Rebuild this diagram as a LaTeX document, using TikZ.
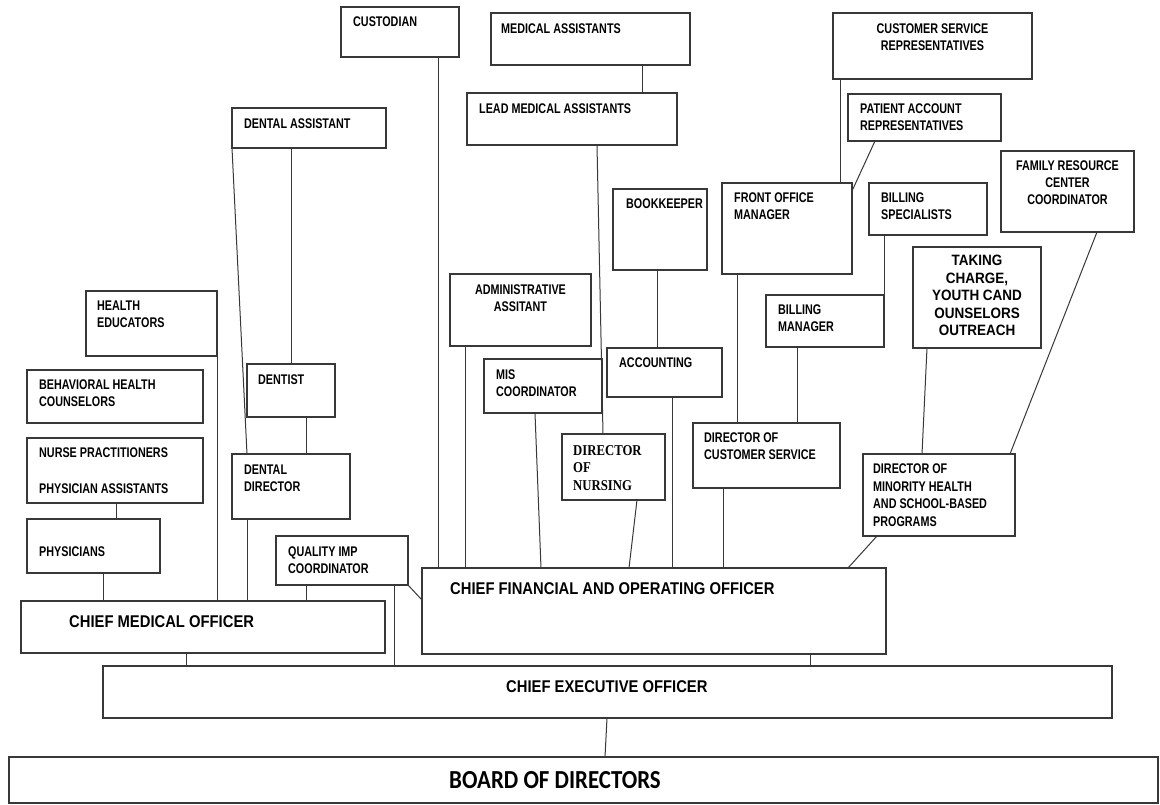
\documentclass[tikz,border=0pt]{standalone}
\usepackage{fontspec}
\newfontfamily\labfont[FakeStretch=0.77]{Liberation Sans}
\newfontfamily\bigfont[FakeStretch=0.87]{Liberation Sans}
\newfontfamily\brdfont[FakeStretch=0.88]{Carlito}
\newfontfamily\serfont[FakeStretch=0.85]{Liberation Serif}
\newfontfamily\tkfont[FakeStretch=0.9]{Liberation Sans}
\newcommand\bx[5]{\node[box,minimum width={#4-#2},minimum height={#5-#3}] (#1) at ({(#2+#4)/2},{(#3+#5)/2}) {};}
\begin{document}
\begin{tikzpicture}[x=1pt,y=-1pt,
  box/.style={draw=black!78,line width=1.1pt,rectangle,inner sep=0pt,outer sep=0pt},
  conn/.style={draw=black!78,line width=1pt},
  lab/.style={font={\labfont\bfseries\fontsize{14}{17}\selectfont},inner sep=0pt,anchor=north west,align=left},
  labc/.style={lab,anchor=north,align=center},
  big/.style={font={\bigfont\bfseries\fontsize{17}{20}\selectfont},inner sep=0pt,anchor=north west},
  brd/.style={font={\brdfont\bfseries\fontsize{26}{30}\selectfont},inner sep=0pt,anchor=north west},
  ser/.style={font={\serfont\bfseries\fontsize{15}{17.6}\selectfont},inner sep=0pt,anchor=north west,align=left},
  tk/.style={font={\tkfont\bfseries\fontsize{15}{17.5}\selectfont},inner sep=0pt,anchor=north,align=center}]
\useasboundingbox (0,0) rectangle (1160,805);
\fill[white] (0,0) rectangle (1160,805);
% boxes
\bx{custodian}{341}{7}{459}{57}
\bx{dentalasst}{232}{108}{386}{148}
\bx{medasst}{491}{13}{690}{65}
\bx{leadma}{467}{93}{677}{145}
\bx{csr}{833}{13}{1032}{79}
\bx{par}{848}{94}{1001}{141}
\bx{fom}{722}{183}{852}{274}
\bx{billspec}{869}{183}{987}{235}
\bx{family}{1001}{151}{1134}{232}
\bx{bookkeeper}{613}{189}{707}{270}
\bx{admin}{450}{274}{591}{346}
\bx{taking}{913}{247}{1041}{348}
\bx{billmgr}{766}{295}{884}{347}
\bx{accounting}{607}{348}{722}{397}
\bx{mis}{484}{359}{602}{413}
\bx{nursing}{562}{434}{665}{500}
\bx{dcs}{693}{423}{840}{488}
\bx{dmh}{863}{454}{1015}{536}
\bx{healthed}{86}{291}{217}{356}
\bx{behav}{27}{370}{203}{423}
\bx{np}{27}{438}{203}{503}
\bx{physicians}{27}{519}{160}{573}
\bx{dentist}{247}{364}{335}{417}
\bx{dentaldir}{232}{454}{350}{519}
\bx{quality}{276}{536}{408}{585}
\bx{cmo}{21}{601}{385}{653}
\bx{cfo}{422}{568}{886}{654}
\bx{ceo}{103}{666}{1112}{718}
\bx{board}{9}{757}{1158}{803}
% texts
\node[lab] (custodian-t) at (353,17) {CUSTODIAN};
\node[lab] (dentalasst-t) at (244,119) {DENTAL ASSISTANT};
\node[lab] (medasst-t) at (501,24) {MEDICAL ASSISTANTS};
\node[lab] (leadma-t) at (479,104) {LEAD MEDICAL ASSISTANTS};
\node[labc] (csr-t) at (932.5,24) {CUSTOMER SERVICE\\REPRESENTATIVES};
\node[lab] (par-t) at (860,104) {PATIENT ACCOUNT\\REPRESENTATIVES};
\node[lab] (fom-t) at (734,193) {FRONT OFFICE\\MANAGER};
\node[lab] (billspec-t) at (881,193) {BILLING\\SPECIALISTS};
\node[labc] (family-t) at (1067.5,161) {FAMILY RESOURCE\\CENTER\\COORDINATOR};
\node[lab] (bookkeeper-t) at (626,199) {BOOKKEEPER};
\node[labc] (admin-t) at (520.5,285) {ADMINISTRATIVE\\ASSITANT};
\node[lab] (mis-t) at (496,370) {MIS\\COORDINATOR};
\node[lab] (accounting-t) at (619,358) {ACCOUNTING};
\node[lab] (billmgr-t) at (778,305) {BILLING\\MANAGER};
\node[ser] (nursing-t) at (573,445) {DIRECTOR\\OF\\NURSING};
\node[lab] (dcs-t) at (704,433) {DIRECTOR OF\\CUSTOMER SERVICE};
\node[tk] (taking-t) at (977,255) {TAKING\\CHARGE,\\YOUTH CAND\\OUNSELORS\\OUTREACH};
\node[lab,font={\labfont\bfseries\fontsize{14}{17.5}\selectfont}] (dmh-t) at (873,464) {DIRECTOR OF\\MINORITY HEALTH\\AND SCHOOL-BASED\\PROGRAMS};
\node[lab] (healthed-t) at (97,301) {HEALTH\\EDUCATORS};
\node[lab] (behav-t) at (39,380) {BEHAVIORAL HEALTH\\COUNSELORS};
\node[lab] (np-t) at (39,448) {NURSE PRACTITIONERS\\[19pt]PHYSICIAN ASSISTANTS};
\node[lab] (physicians-t) at (39,547) {PHYSICIANS};
\node[lab] (dentist-t) at (258,375) {DENTIST};
\node[lab] (dentaldir-t) at (244,465) {DENTAL\\DIRECTOR};
\node[lab] (quality-t) at (288,547) {QUALITY IMP\\COORDINATOR};
\node[big] (cmo-t) at (69,615) {CHIEF MEDICAL OFFICER};
\node[big] (cfo-t) at (450,582) {CHIEF FINANCIAL AND OPERATING OFFICER};
\node[big] (ceo-t) at (506,680) {CHIEF EXECUTIVE OFFICER};
\node[brd] (board-t) at (449,771) {BOARD OF DIRECTORS};
% connectors
\draw[conn] (custodian.south -| 438,0) -- (cfo.north -| 438,0);
\draw[conn] (dentalasst.south west) -- (dentaldir.north -| 247,0);
\draw[conn] (dentalasst.south -| 291,0) -- (dentist.north -| 291,0);
\draw[conn] (dentist.south -| 306,0) -- (dentaldir.north -| 306,0);
\draw[conn] (dentaldir.south -| 247,0) -- (cmo.north -| 247,0);
\draw[conn] (healthed.south east) -- (cmo.north -| healthed.south east);
\draw[conn] (np.south -| 116,0) -- (physicians.north -| 116,0);
\draw[conn] (physicians.south -| 103,0) -- (cmo.north -| 103,0);
\draw[conn] (quality.south -| 306,0) -- (cmo.north -| 306,0);
\draw[conn] (quality.south -| 394,0) -- (ceo.north -| 394,0);
\draw[conn] (quality.south east) -- (cfo.north west |- 0,600);
\draw[conn] (cmo.south -| 186,0) -- (ceo.north -| 186,0);
\draw[conn] (cfo.south -| 810,0) -- (ceo.north -| 810,0);
\draw[conn] (ceo.south -| 607,0) -- (board.north -| 605,0);
\draw[conn] (admin.south -| 465,0) -- (cfo.north -| 465,0);
\draw[conn] (mis.south -| 535,0) -- (cfo.north -| 541,0);
\draw[conn] (leadma.south -| 597,0) -- (nursing.north -| 603,0);
\draw[conn] (nursing.south -| 637,0) -- (cfo.north -| 629,0);
\draw[conn] (medasst.south -| 642,0) -- (leadma.north -| 642,0);
\draw[conn] (bookkeeper.south -| 657,0) -- (accounting.north -| 657,0);
\draw[conn] (accounting.south -| 672,0) -- (cfo.north -| 672,0);
\draw[conn] (fom.south -| 737,0) -- (dcs.north -| 737,0);
\draw[conn] (dcs.south -| 723,0) -- (cfo.north -| 723,0);
\draw[conn] (billmgr.south -| 797,0) -- (dcs.north -| 797,0);
\draw[conn] (billspec.south -| billmgr.north east) -- (billmgr.north east);
\draw[conn] (csr.south -| 840,0) -- (fom.north -| 840,0);
\draw[conn] (par.south -| 875,0) -- (fom.north east |- 0,191);
\draw[conn] (family.south -| 1097,0) -- (dmh.north -| 1010,0);
\draw[conn] (taking.south -| 927,0) -- (dmh.north -| 922,0);
\draw[conn] (dmh.south -| 877,0) -- (cfo.north -| 848,0);
\end{tikzpicture}
\end{document}
